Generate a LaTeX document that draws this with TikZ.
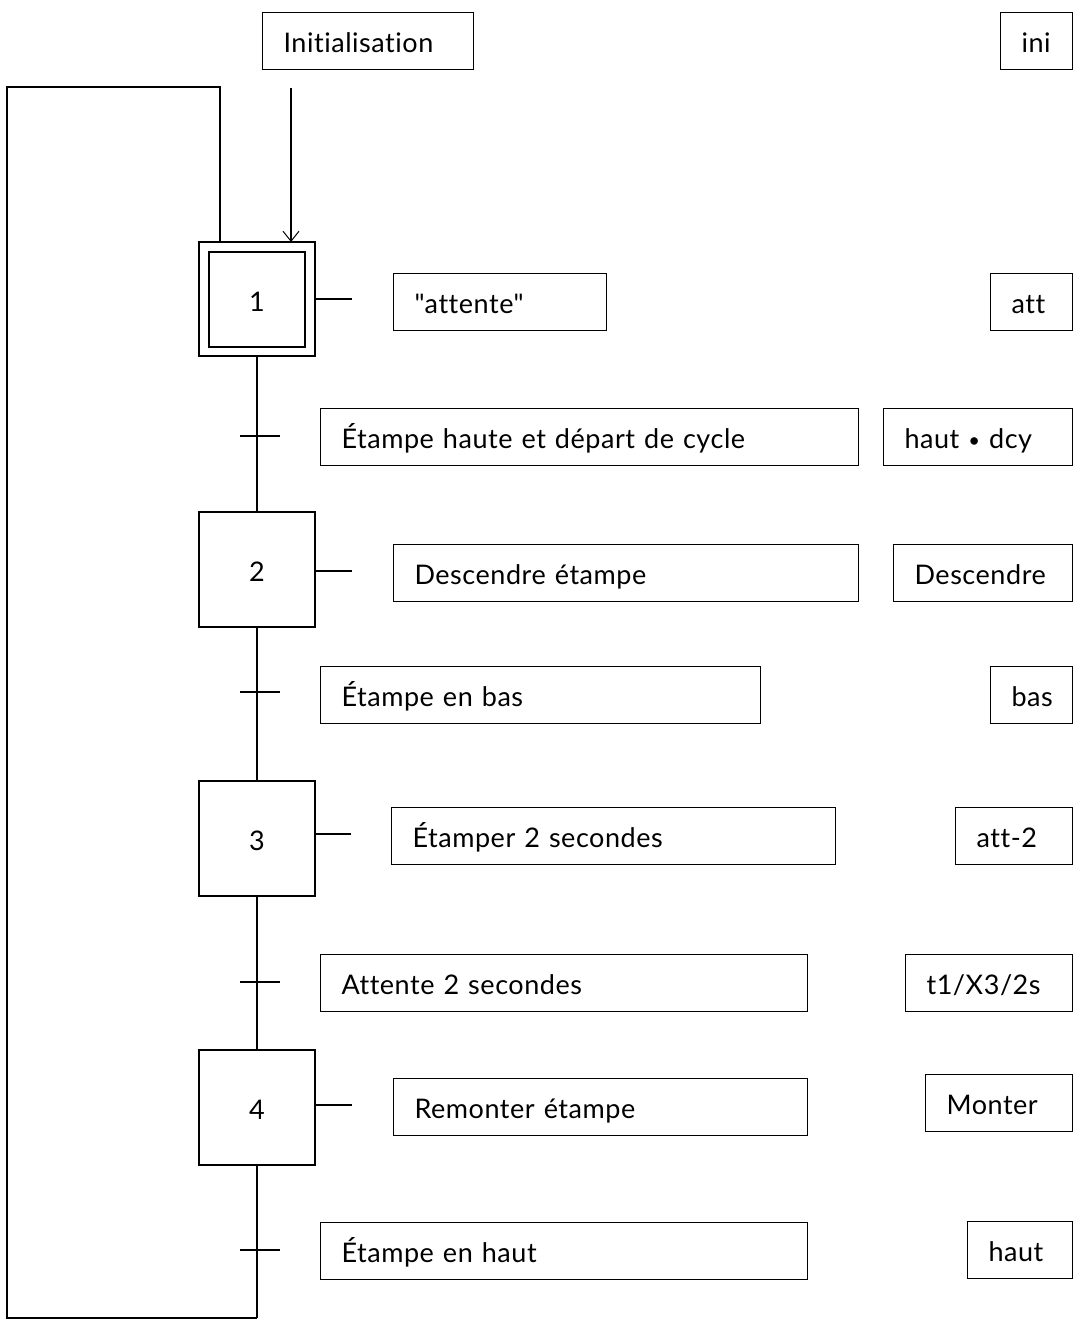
\documentclass[tikz,border=0pt]{standalone}
\usepackage{fontspec}
\usepackage{graphicx}
\newfontfamily\lato{Lato}[Ligatures=NoCommon, LetterSpace=2]
\usetikzlibrary{arrows.meta}
\tikzset{
  lbox/.style={draw, line width=1.1pt, anchor=north west, minimum height=57pt,
    inner xsep=21pt, inner ysep=0pt, text height=23pt, text depth=0pt,
    align=left, font=\lato\fontsize{27}{31}\selectfont},
  stepbox/.style={draw, line width=1.6pt, minimum width=116pt, minimum height=115pt,
    inner sep=0pt, text height=23pt, text depth=0pt, font=\lato\fontsize{27}{31}\selectfont},
  link/.style={line width=1.1pt},
}
\begin{document}
\begin{tikzpicture}[x=1pt, y=-1pt]
\useasboundingbox (0,0) rectangle (1078,1325);
% action / transition boxes
\node[lbox, text width=169pt] (init) at (262,12) {Initialisation};
\node[lbox, text width=30pt] (ini) at (1000,12) {ini};
\node[lbox, text width=171pt] (a1) at (393,273) {"attente"};
\node[lbox, text width=40pt] (att) at (990,273) {att};
\node[lbox, text width=496pt] (r1) at (320,408) {Étampe haute et départ de cycle};
\node[lbox, text width=147pt] (v1) at (883,408) {\mbox{haut \raisebox{1.5pt}{\scalebox{0.75}{•}} dcy}};
\node[lbox, text width=423pt] (a2) at (393,544) {Descendre étampe};
\node[lbox, text width=137pt] (desc) at (893,544) {Descendre};
\node[lbox, text width=398pt] (r2) at (320,666) {Étampe en bas};
\node[lbox, text width=40pt] (bas) at (990,666) {bas};
\node[lbox, text width=402pt] (a3) at (391,807) {Étamper 2 secondes};
\node[lbox, text width=75pt] (att2) at (955,807) {att-2};
\node[lbox, text width=445pt] (r3) at (320,954) {Attente 2 secondes};
\node[lbox, text width=125pt] (v3) at (905,954) {t1/X3/2s};
\node[lbox, text width=372pt] (a4) at (393,1078) {Remonter étampe};
\node[lbox, text width=105pt] (monter) at (925,1074) {Monter};
\node[lbox, text width=445pt] (r4) at (320,1222) {Étampe en haut};
\node[lbox, text width=63pt] (haut) at (967,1221) {haut};
% steps
\node[stepbox, minimum width=116pt, minimum height=114pt] (s1o) at (257,299) {};
\node[stepbox, minimum width=96pt, minimum height=95pt] (s1) at (257,299.5) {1};
\node[stepbox] (s2) at (257,569.5) {2};
\node[stepbox] (s3) at (257,838.5) {3};
\node[stepbox] (s4) at (257,1107.5) {4};
% main line
\coordinate (bot) at (257,1318);
\draw[link] (s1o.south) -- (s2.north);
\draw[link] (s2.south) -- (s3.north);
\draw[link] (s3.south) -- (s4.north);
\draw[link] (s4.south) -- (bot);
% loop back
\coordinate (lp) at (220,242);
\draw[link] (bot) -- (7,1318) -- (7,87) -- (220,87) -- (lp);
% initial arrow
\coordinate (ia) at (291,88);
\coordinate (ib) at (291,242);
\draw[link, -{Straight Barb[length=10pt,width=16pt,line width=1pt]}] (ia) -- (ib);
% transitions
\foreach \n/\y in {t1/436, t2/692, t3/982, t4/1250}{
  \coordinate (\n l) at (240,\y);
  \coordinate (\n r) at (280,\y);
  \draw[link] (\n l) -- (\n r);
}
% action links
\coordinate (c1) at (352,299);
\coordinate (c2) at (352,571);
\coordinate (c3) at (351,834);
\coordinate (c4) at (352,1105);
\draw[link] (s1o.east |- c1) -- (c1);
\draw[link] (s2.east |- c2) -- (c2);
\draw[link] (s3.east |- c3) -- (c3);
\draw[link] (s4.east |- c4) -- (c4);
\end{tikzpicture}
\end{document}
